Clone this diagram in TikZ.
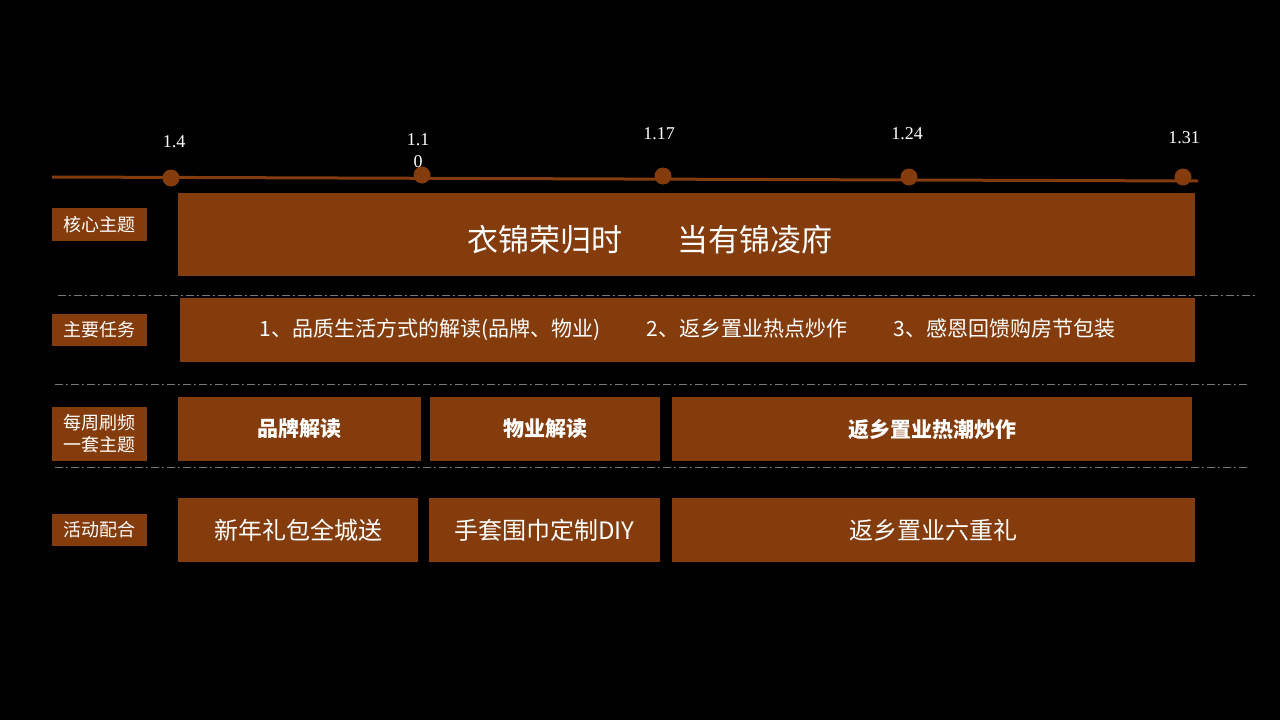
\documentclass[tikz,border=0pt]{standalone}
\usepackage{fontspec}
\setmainfont{Noto Sans CJK SC}
\newfontfamily\numfont{Liberation Serif}
\usetikzlibrary{positioning}

\definecolor{rust}{RGB}{132,60,12}
\definecolor{sepgray}{RGB}{120,120,120}

\begin{document}
\begin{tikzpicture}[
  x=1pt, y=-1pt,
  box/.style ={fill=rust, inner sep=0pt, text=white, align=center},
  tag/.style ={box, minimum width=95pt, font=\fontsize{18}{22}\selectfont},
  dot/.style ={circle, fill=rust, inner sep=0pt, minimum size=17pt},
  date/.style={text=white, align=center, font=\numfont\fontsize{18}{22}\selectfont},
  sep/.style ={draw=sepgray, line width=1pt, dash pattern=on 8pt off 3pt on 2pt off 3pt},
]
\fill[black] (0,0) rectangle (1280,720);

% ======================= timeline =======================
\coordinate (tlL) at (52,177);
\coordinate (tlR) at (1198,181);
\draw[rust, line width=3pt] (tlL) -- (tlR);

\node[dot] (d1) at (171,178) {};
\node[dot] (d2) at (422,175) {};
\node[dot] (d3) at (663,176) {};
\node[dot] (d4) at (909,177) {};
\node[dot] (d5) at (1183,177) {};

\node[date] (t1) at (174,142) {1.4};
\node[date] (t2) at (418,151) {1.1\\0};
\node[date] (t3) at (659,134) {1.17};
\node[date] (t4) at (907,134) {1.24};
\node[date] (t5) at (1184,138) {1.31};

% ======================= row tags =======================
\node[tag, minimum height=33pt] (tagCore) at (99,224.5) {核心主题};
\node[tag, minimum height=32pt] (tagTask) at (99.5,330) {主要任务};
\node[tag, minimum height=54pt] (tagWeek) at (99.5,434) {每周刷频\\一套主题};
\node[tag, minimum height=32pt] (tagAct)  at (99.5,530) {活动配合};

% ======================= core theme =======================
\node[box, minimum width=1017pt, minimum height=83pt] (core) at (686.5,234.5) {};
\node[text=white, font=\fontsize{31}{34}\selectfont] (coreTxt) at (650,240)
     {衣锦荣归时\hspace{1.8em}当有锦凌府};

% ======================= main tasks =======================
\node[box, minimum width=1015pt, minimum height=64pt, font=\fontsize{21}{24}\selectfont] (task) at (687.5,330)
     {1、品质生活方式的解读(品牌、物业)\hspace{2.2em}2、返乡置业热点炒作\hspace{2.2em}3、感恩回馈购房节包装};

% ======================= weekly themes =======================
\begin{scope}[every node/.append style={box, minimum height=64pt, font=\bfseries\fontsize{21}{24}\selectfont}]
  \node[minimum width=243pt] (wBrand) at (299.5,429) {品牌解读};
  \node[minimum width=230pt] (wProp)  at (545,429)   {物业解读};
  \node[minimum width=520pt] (wHome)  at (932,429)   {返乡置业热潮炒作};
\end{scope}

% ======================= activities =======================
\begin{scope}[every node/.append style={box, minimum height=64pt, font=\fontsize{24}{27}\selectfont}]
  \node[minimum width=240pt] (aGift)  at (298,530)   {新年礼包全城送};
  \node[minimum width=231pt] (aDiy)   at (544.5,530) {手套围巾定制DIY};
  \node[minimum width=523pt] (aHome)  at (933.5,530) {返乡置业六重礼};
\end{scope}

% ======================= separators =======================
\coordinate (s1L) at (58,295);  \coordinate (s1R) at (1255,295);
\coordinate (s2L) at (55,384);  \coordinate (s2R) at (1250,384);
\coordinate (s3L) at (55,467);  \coordinate (s3R) at (1250,467);
\draw[sep] (s1L) -- (s1R);
\draw[sep] (s2L) -- (s2R);
\draw[sep] (s3L) -- (s3R);
\end{tikzpicture}
\end{document}
